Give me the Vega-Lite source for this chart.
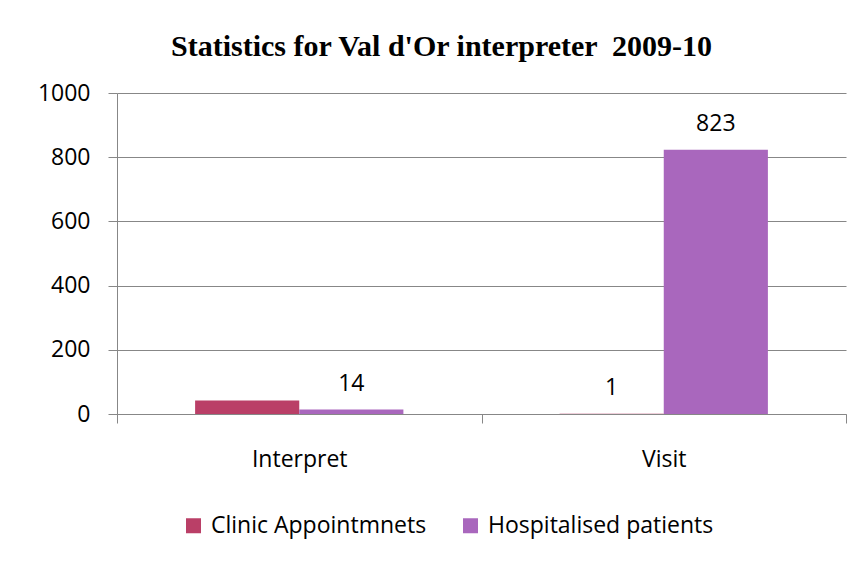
{
  "$schema": "https://vega.github.io/schema/vega-lite/v6.json",
  "autosize": {"type": "none"},
  "width": 729,
  "height": 321,
  "padding": {"left": 117, "top": 93, "right": 21, "bottom": 148},
  "background": "white",
  "title": {
    "text": "Statistics for Val d'Or interpreter \u00a02009-10",
    "font": "Liberation Serif",
    "fontSize": 30,
    "fontWeight": "bold",
    "color": "black",
    "anchor": "middle",
    "dx": -40,
    "offset": 20
  },
  "data": {
    "values": [
      {"category": "Interpret", "series": "Clinic Appointmnets", "value": 42, "label": null},
      {"category": "Interpret", "series": "Hospitalised patients", "value": 14, "label": "14"},
      {"category": "Visit", "series": "Clinic Appointmnets", "value": 1, "label": "1"},
      {"category": "Visit", "series": "Hospitalised patients", "value": 823, "label": "823"}
    ]
  },
  "encoding": {
    "x": {
      "field": "category",
      "type": "nominal",
      "title": null,
      "scale": {"paddingInner": 0, "paddingOuter": 0},
      "axis": {
        "labelAngle": 0,
        "tickBand": "extent",
        "domainColor": "#878787",
        "tickColor": "#878787",
        "tickSize": 9,
        "labelFont": "Open Sans",
        "labelFontSize": 23,
        "labelColor": "black",
        "labelPadding": 25,
        "grid": false
      }
    },
    "xOffset": {
      "field": "series",
      "type": "nominal",
      "scale": {"paddingOuter": 0.75, "paddingInner": 0}
    },
    "y": {
      "field": "value",
      "type": "quantitative",
      "title": null,
      "scale": {"domain": [0, 1000], "nice": false},
      "axis": {
        "values": [0, 200, 400, 600, 800, 1000],
        "format": "d",
        "domainColor": "#878787",
        "tickColor": "#878787",
        "tickSize": 9,
        "gridColor": "#878787",
        "labelFont": "Open Sans",
        "labelFontSize": 23,
        "labelColor": "black",
        "labelPadding": 18
      }
    }
  },
  "layer": [
    {
      "mark": {"type": "bar"},
      "encoding": {
        "color": {
          "field": "series",
          "type": "nominal",
          "title": null,
          "scale": {
            "domain": ["Clinic Appointmnets", "Hospitalised patients"],
            "range": ["#BA3F67", "#A967BD"]
          },
          "legend": {
            "orient": "none",
            "legendX": 65,
            "legendY": 421,
            "direction": "horizontal",
            "symbolType": "square",
            "symbolSize": 225,
            "symbolStrokeWidth": 0,
            "symbolOpacity": 1,
            "labelFont": "Open Sans",
            "labelFontSize": 23,
            "labelColor": "black",
            "labelLimit": 0,
            "labelOffset": 6,
            "columnPadding": 32
          }
        }
      }
    },
    {
      "transform": [{"filter": "datum.label != null"}],
      "mark": {
        "type": "text",
        "font": "Open Sans",
        "fontSize": 23,
        "color": "black",
        "baseline": "alphabetic",
        "dy": -19
      },
      "encoding": {
        "text": {"field": "label"}
      }
    }
  ],
  "config": {
    "view": {"stroke": null}
  }
}
